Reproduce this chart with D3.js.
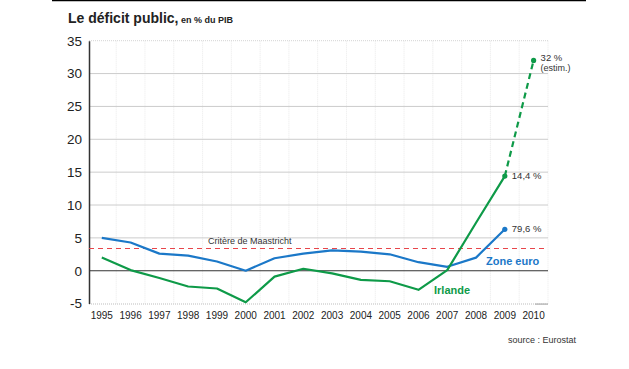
<!DOCTYPE html>
<html><head><meta charset="utf-8">
<script src="https://cdn.jsdelivr.net/npm/d3@7"></script>
<style>
body{margin:0;background:#fff;}
svg{display:block;font-family:"Liberation Sans",Arial,sans-serif;}
</style></head>
<body>
<script>
const years = [1995,1996,1997,1998,1999,2000,2001,2002,2003,2004,2005,2006,2007,2008,2009,2010];
const zoneEuro = [5.0,4.3,2.6,2.3,1.4,0.0,1.9,2.6,3.1,2.9,2.5,1.3,0.6,2.0,6.3];
const irlande = [2.0,0.1,-1.1,-2.4,-2.7,-4.8,-0.9,0.3,-0.4,-1.4,-1.6,-2.9,0.1,7.3,14.4];
const irlandeEstim = [14.4,32.0];
const maastricht = 3.5;
const yTicks = [-5,0,5,10,15,20,25,30,35];

const W=629,H=369;
const svg=d3.select("body").append("svg").attr("width",W).attr("height",H);
const x=d3.scaleBand().domain(years).range([87.4,548]);
const xc=d=>x(d)+x.bandwidth()/2;
const y=d3.scaleLinear().domain([-5,35]).range([303.6,40.7]);

// top black rule
svg.append("line").attr("x1",52).attr("x2",586).attr("y1",0.5).attr("y2",0.5).attr("stroke","#000").attr("stroke-width",1.5);

// title
const t=svg.append("text").attr("x",68).attr("y",23).attr("fill","#222").attr("font-weight","bold");
t.append("tspan").attr("font-size",14).text("Le déficit public,");
t.append("tspan").attr("font-size",9).text(" en % du PIB");

// vertical gridlines at band boundaries
const bounds=years.slice(1).map(d=>x(d));
bounds.push(548);
svg.selectAll(".vg").data(bounds).enter().append("line")
 .attr("x1",d=>d).attr("x2",d=>d).attr("y1",y(35)).attr("y2",y(-5))
 .attr("stroke","#e4e4e4").attr("stroke-width",0.8).attr("stroke-dasharray","1,1");

// horizontal gridlines
svg.selectAll(".hg").data(yTicks.filter(d=>d>0&&d<35)).enter().append("line")
 .attr("x1",89).attr("x2",548).attr("y1",d=>y(d)).attr("y2",d=>y(d))
 .attr("stroke","#cccccc").attr("stroke-width",1);
svg.append("line").attr("x1",89).attr("x2",548).attr("y1",y(35)).attr("y2",y(35))
 .attr("stroke","#d4d4d4").attr("stroke-width",1).attr("stroke-dasharray","1,1");
svg.append("line").attr("x1",89).attr("x2",548).attr("y1",y(-5)+0.5).attr("y2",y(-5)+0.5)
 .attr("stroke","#d4d4d4").attr("stroke-width",1.5).attr("stroke-dasharray","1,1");
svg.append("line").attr("x1",535).attr("x2",548).attr("y1",y(-5)+0.5).attr("y2",y(-5)+0.5)
 .attr("stroke","#bbb").attr("stroke-width",1.5);
// zero line
svg.append("line").attr("x1",89).attr("x2",548).attr("y1",y(0)).attr("y2",y(0))
 .attr("stroke","#333").attr("stroke-width",1.2);

// y axis
const yAxis=d3.axisLeft(y).tickValues(yTicks).tickSize(0).tickPadding(7).tickFormat(d=>String(d));
const ya=svg.append("g").attr("transform","translate(89,0)").call(yAxis);
ya.select(".domain").attr("stroke","#333").attr("stroke-width",1.5);
ya.selectAll("text").attr("font-size",13.5).attr("fill","#222").attr("font-family","Liberation Sans, Arial, sans-serif");

// x axis labels
const xAxis=d3.axisBottom(x).tickSize(0).tickPadding(8);
const xa=svg.append("g").attr("transform",`translate(0,${y(-5)})`).call(xAxis);
xa.select(".domain").remove();
xa.selectAll("text").attr("font-size",10).attr("fill","#222").attr("font-family","Liberation Sans, Arial, sans-serif");

// Maastricht
svg.append("line").attr("x1",89).attr("x2",548).attr("y1",Math.round(y(maastricht))+0.5).attr("y2",Math.round(y(maastricht))+0.5)
 .attr("stroke","#e8454a").attr("stroke-width",1.2).attr("stroke-dasharray","5,4");
svg.append("text").attr("x",208).attr("y",y(maastricht)-4).attr("font-size",9).attr("fill","#333").text("Critère de Maastricht");

const blue="#1b78c8", green="#0e9a48";
const line=d3.line().x(d=>xc(d[0])).y(d=>y(d[1]));
svg.append("path").attr("d",line(zoneEuro.map((v,i)=>[years[i],v])))
 .attr("fill","none").attr("stroke",blue).attr("stroke-width",2.2).attr("stroke-linejoin","round");
svg.append("path").attr("d",line(irlande.map((v,i)=>[years[i],v])))
 .attr("fill","none").attr("stroke",green).attr("stroke-width",2.2).attr("stroke-linejoin","round");
const estPts=irlandeEstim.map((v,i)=>[years[14+i],v]);
svg.append("path").attr("d",d3.line().x(d=>xc(d[0])).y(d=>y(d[1])).curve(d3.curveMonotoneX)(estPts))
 .attr("fill","none").attr("stroke",green).attr("stroke-width",2.2).attr("stroke-dasharray","6,4");

// dots
svg.append("circle").attr("cx",xc(2009)).attr("cy",y(zoneEuro[14])).attr("r",2.6).attr("fill",blue);
svg.append("circle").attr("cx",xc(2009)).attr("cy",y(irlande[14])).attr("r",2.6).attr("fill",green);
svg.append("circle").attr("cx",xc(2010)).attr("cy",y(irlandeEstim[1])).attr("r",2.6).attr("fill",green);

// labels
svg.append("text").attr("x",xc(2009)+7).attr("y",y(zoneEuro[14])+3).attr("font-size",9.5).attr("fill","#333").text("79,6 %");
svg.append("text").attr("x",xc(2009)+7).attr("y",y(irlande[14])+3).attr("font-size",9.5).attr("fill","#333").text("14,4 %");
svg.append("text").attr("x",xc(2010)+7).attr("y",y(irlandeEstim[1])+1).attr("font-size",9.5).attr("fill","#333").text("32 %");
svg.append("text").attr("x",xc(2010)+7).attr("y",y(irlandeEstim[1])+11).attr("font-size",9).attr("fill","#333").text("(estim.)");
svg.append("text").attr("x",486).attr("y",265).attr("font-size",11).attr("font-weight","bold").attr("fill",blue).text("Zone euro");
svg.append("text").attr("x",434).attr("y",294).attr("font-size",11).attr("font-weight","bold").attr("fill",green).text("Irlande");
svg.append("text").attr("x",508).attr("y",343).attr("font-size",9).attr("fill","#333").text("source : Eurostat");
</script>
</body></html>
